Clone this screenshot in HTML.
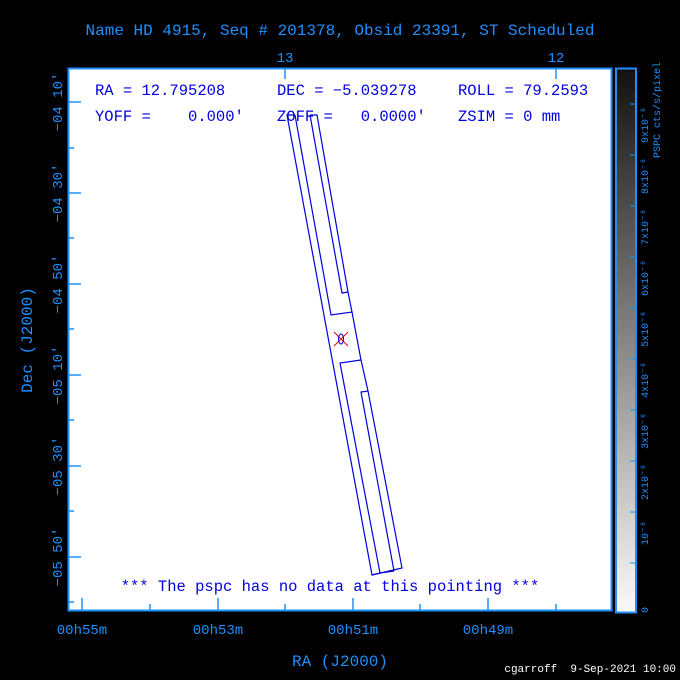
<!DOCTYPE html><html><head><style>
body{margin:0;background:#000;width:680px;height:680px;overflow:hidden}
svg{display:block}
text{font-family:"Liberation Mono",monospace}
</style></head><body>
<svg width="680" height="680" viewBox="0 0 680 680">
<defs><linearGradient id="g" x1="0" y1="0" x2="0" y2="1"><stop offset="0" stop-color="#111"/><stop offset="1" stop-color="#fafafa"/></linearGradient></defs>
<text x="340" y="35" fill="#1e90ff" font-size="16" text-anchor="middle">Name HD 4915, Seq # 201378, Obsid 23391, ST Scheduled</text>
<rect x="68.5" y="68.5" width="543" height="542" fill="#fff" stroke="#1e90ff" stroke-width="2"/>
<g stroke="#1e90ff" stroke-width="1.5">
<line x1="69" y1="102" x2="81" y2="102"/><line x1="69" y1="193" x2="81" y2="193"/><line x1="69" y1="284" x2="81" y2="284"/><line x1="69" y1="375" x2="81" y2="375"/><line x1="69" y1="466" x2="81" y2="466"/><line x1="69" y1="557" x2="81" y2="557"/>
<line x1="69" y1="148" x2="74" y2="148"/><line x1="69" y1="238" x2="74" y2="238"/><line x1="69" y1="329" x2="74" y2="329"/><line x1="69" y1="420" x2="74" y2="420"/><line x1="69" y1="511" x2="74" y2="511"/><line x1="69" y1="602" x2="74" y2="602"/>
<line x1="82" y1="610" x2="82" y2="598"/><line x1="218" y1="610" x2="218" y2="598"/><line x1="353" y1="610" x2="353" y2="598"/><line x1="488" y1="610" x2="488" y2="598"/>
<line x1="150" y1="610" x2="150" y2="604"/><line x1="285" y1="610" x2="285" y2="604"/><line x1="420" y1="610" x2="420" y2="604"/><line x1="556" y1="610" x2="556" y2="604"/>
<line x1="285" y1="69" x2="285" y2="79"/><line x1="556" y1="69" x2="556" y2="79"/>
</g>
<g fill="#1e90ff" font-size="14" text-anchor="middle">
<text transform="translate(62,102) rotate(-90)">−04 10′</text>
<text transform="translate(62,193) rotate(-90)">−04 30′</text>
<text transform="translate(62,284) rotate(-90)">−04 50′</text>
<text transform="translate(62,375) rotate(-90)">−05 10′</text>
<text transform="translate(62,466) rotate(-90)">−05 30′</text>
<text transform="translate(62,557) rotate(-90)">−05 50′</text>
<text x="82" y="634">00h55m</text><text x="218" y="634">00h53m</text><text x="353" y="634">00h51m</text><text x="488" y="634">00h49m</text>
<text x="285" y="62">13</text><text x="556" y="62">12</text>
<text x="340" y="666" font-size="16">RA (J2000)</text>
<text transform="translate(32,340) rotate(-90)" font-size="16">Dec (J2000)</text>
</g>
<text x="676" y="672" fill="#fff" font-size="11" text-anchor="end">cgarroff&#160; 9-Sep-2021 10:00</text>
<g fill="#0000dd" font-size="15.5">
<text x="95" y="95">RA = 12.795208</text><text x="277" y="95">DEC = −5.039278</text><text x="458" y="95">ROLL = 79.2593</text>
<text x="95" y="121">YOFF =&#160;&#160;&#160; 0.000′</text><text x="277" y="121">ZOFF =&#160;&#160; 0.0000′</text><text x="458" y="121">ZSIM = 0 mm</text>
<text x="330" y="591" text-anchor="middle">*** The pspc has no data at this pointing ***</text>
</g>
<g fill="none" stroke="#0000dd" stroke-width="1.2">
<polyline points="295,115 287,115 372,575 402,568 368,391 361,392 394,571"/>
<polyline points="372,575 380,573 340,363 361,360 352,312 331,315 295,115"/>
<polyline points="310,115 317,115 348,292 352,312"/>
<polyline points="310,115 342,293 348,292"/>
<line x1="361" y1="360" x2="368" y2="391"/>
<line x1="380" y1="573" x2="394" y2="571"/>
</g>
<g stroke="#e00" stroke-width="1"><line x1="334" y1="332" x2="348" y2="346"/><line x1="348" y1="332" x2="334" y2="346"/></g>
<ellipse cx="341" cy="339" rx="2.5" ry="5" fill="none" stroke="#0000dd" stroke-width="1"/>
<rect x="616" y="68.5" width="20" height="544" fill="url(#g)" stroke="#1e90ff" stroke-width="2"/>
<g stroke="#1e90ff" stroke-width="1">
<line x1="630" y1="104" x2="636" y2="104"/><line x1="630" y1="155" x2="636" y2="155"/><line x1="630" y1="206" x2="636" y2="206"/><line x1="630" y1="257" x2="636" y2="257"/><line x1="630" y1="308" x2="636" y2="308"/><line x1="630" y1="359" x2="636" y2="359"/><line x1="630" y1="410" x2="636" y2="410"/><line x1="630" y1="461" x2="636" y2="461"/><line x1="630" y1="512" x2="636" y2="512"/><line x1="630" y1="563" x2="636" y2="563"/>
</g>
<g fill="#1e90ff" font-size="10" text-anchor="middle">
<text transform="translate(648,125) rotate(-90)">9x10⁻⁶</text>
<text transform="translate(648,176) rotate(-90)">8x10⁻⁶</text>
<text transform="translate(648,227) rotate(-90)">7x10⁻⁶</text>
<text transform="translate(648,278) rotate(-90)">6x10⁻⁶</text>
<text transform="translate(648,329) rotate(-90)">5x10⁻⁶</text>
<text transform="translate(648,380) rotate(-90)">4x10⁻⁶</text>
<text transform="translate(648,431) rotate(-90)">3x10⁻⁶</text>
<text transform="translate(648,482) rotate(-90)">2x10⁻⁶</text>
<text transform="translate(648,533) rotate(-90)">10⁻⁶</text>
<text transform="translate(648,610) rotate(-90)">0</text>
<text transform="translate(660,110) rotate(-90)">PSPC cts/s/pixel</text>
</g>
</svg>
</body></html>
